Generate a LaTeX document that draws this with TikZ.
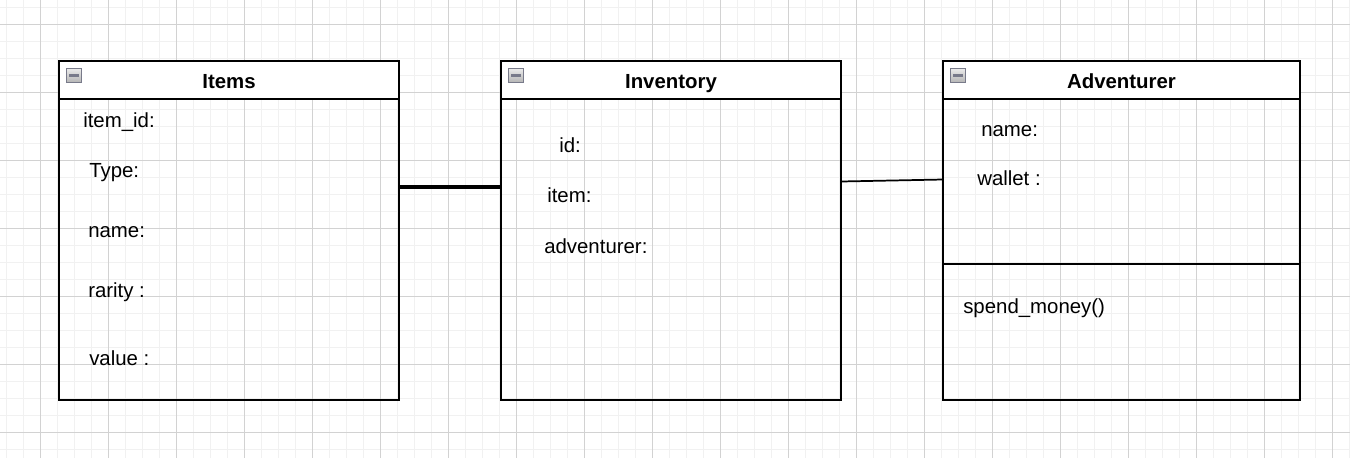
\documentclass[tikz,border=0pt]{standalone}
\usepackage{fontspec}
\setmainfont{Liberation Sans}
\usetikzlibrary{positioning}
\usepackage{xcolor}
\definecolor{GridMinor}{RGB}{241,241,241}
\definecolor{GridMajor}{RGB}{210,210,210}
\definecolor{IconGray}{RGB}{120,122,138}

\begin{document}
\begin{tikzpicture}[
    x=0.75pt, y=-0.75pt,
    font=\fontsize{15.3}{18}\selectfont,
    classbox/.style={rectangle, draw=black, line width=1.5pt, outer sep=0pt, inner sep=0pt, anchor=north west, minimum height=254.25pt},
    header/.style={rectangle, draw=black, fill=white, line width=1.5pt, outer sep=0pt, anchor=north west, minimum height=28.5pt, text height=12.5pt, text depth=0pt, font=\fontsize{15.3}{18}\selectfont\bfseries},
    compartment/.style={rectangle, draw=black, line width=1.5pt, outer sep=0pt, anchor=south west, minimum height=102pt},
    attr/.style={anchor=base west, inner sep=0pt},
    collapse/.style={rectangle, draw=IconGray, line width=0.9pt, top color=gray!15, bottom color=gray!60, minimum size=11pt, inner sep=0pt,
      path picture={\draw[line width=2pt] ([xshift=2pt]path picture bounding box.west) -- ([xshift=-2pt]path picture bounding box.east);}},
    link/.style={draw=black, line width=1.3pt},
    heavylink/.style={draw=black, line width=2.5pt}
  ]
  \useasboundingbox (0,0) rectangle (1350,458);

  % grid
  \foreach \gx in {6,23,...,1350} \draw[GridMinor, line width=0.75pt] (\gx,0) -- (\gx,458);
  \foreach \gy in {7,24,...,458} \draw[GridMinor, line width=0.75pt] (0,\gy) -- (1350,\gy);
  \foreach \gx in {40,108,...,1350} \draw[GridMajor, line width=0.75pt] (\gx,0) -- (\gx,458);
  \foreach \gy in {24,92,...,458} \draw[GridMajor, line width=0.75pt] (0,\gy) -- (1350,\gy);

  % classes
  \node (items) [classbox, minimum width=255pt] at (59,61) {};
  \node (itemshead) [header, minimum width=255pt] at (items.north west) {Items};
  \node (itemsicon) [collapse] at ([xshift=11.25pt, yshift=-10.9pt]items.north west) {};

  \node (inventory) [classbox, minimum width=255pt] at (501,61) {};
  \node (inventoryhead) [header, minimum width=255pt] at (inventory.north west) {Inventory};
  \node (inventoryicon) [collapse] at ([xshift=11.25pt, yshift=-10.9pt]inventory.north west) {};

  \node (adventurer) [classbox, minimum width=267.75pt] at (943,61) {};
  \node (adventurerhead) [header, minimum width=267.75pt] at (adventurer.north west) {Adventurer};
  \node (adventurericon) [collapse] at ([xshift=11.25pt, yshift=-10.9pt]adventurer.north west) {};
  \node (adventurerops) [compartment, minimum width=267.75pt] at (adventurer.south west) {};

  % attributes
  \node (itemid) [attr] at (83,127) {item\_id:};
  \node (itemtype) [attr] at (89,177) {Type:};
  \node (itemname) [attr] at (88,237) {name:};
  \node (itemrarity) [attr] at (88,297) {rarity :};
  \node (itemvalue) [attr] at (89,365) {value :};

  \node (invid) [attr] at (559,152) {id:};
  \node (invitem) [attr] at (547,202) {item:};
  \node (invadventurer) [attr] at (544,253) {adventurer:};

  \node (advname) [attr] at (981,136) {name:};
  \node (advwallet) [attr] at (977,185) {wallet :};
  \node (advspend) [attr] at (963,313) {spend\_money()};

  % associations
  \draw[heavylink] ([yshift=32.6pt]items.east) -- ([yshift=32.6pt]inventory.west);
  \draw[link] ([yshift=36.75pt]inventory.east) -- ([yshift=38.25pt]adventurer.west);
\end{tikzpicture}
\end{document}
